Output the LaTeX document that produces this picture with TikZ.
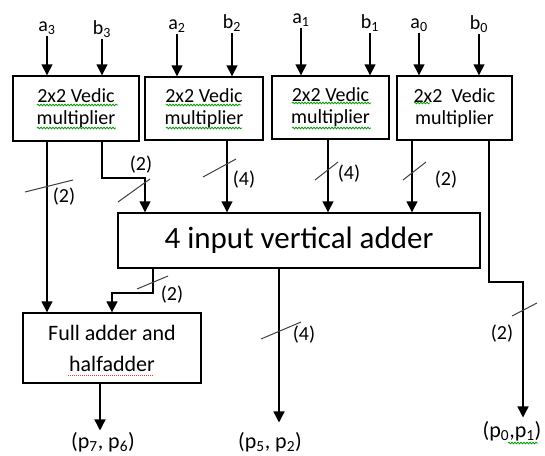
\documentclass[tikz,border=0pt]{standalone}
\usepackage{fontspec}
\setmainfont{Carlito}
\usetikzlibrary{arrows.meta,positioning,calc,decorations.pathmorphing}

\begin{document}
\begin{tikzpicture}[x=1pt,y=-1pt,line width=1.4pt,
  vbox/.style={draw,line width=1.4pt,align=center,inner sep=0pt},
  mtxt/.style={font=\fontsize{20}{22}\selectfont},
  arr/.style={-{Triangle[width=11pt,length=11pt]}},
  wbar/.style={line width=1pt,black!75},
  wlbl/.style={font=\fontsize{20}{22}\selectfont,inner sep=0pt},
  inp/.style={font=\fontsize{20}{22}\selectfont,inner sep=1pt},
  outl/.style={font=\fontsize{22}{24}\selectfont,inner sep=1pt},
  squig/.style={decorate,decoration={snake,amplitude=0.8pt,segment length=3pt},line width=0.8pt,green!60!black}]
\useasboundingbox (0,0) rectangle (545,455);
% multipliers
\node[vbox,mtxt,minimum width=126pt,minimum height=65pt] (m3) at (76,108.5) {2x2 Vedic\\multiplier};
\node[vbox,mtxt,minimum width=118pt,minimum height=63pt] (m2) at (204,108.5) {2x2 Vedic\\multiplier};
\node[vbox,mtxt,minimum width=117pt,minimum height=63pt] (m1) at (330.5,107.5) {2x2 Vedic\\multiplier};
\node[vbox,mtxt,minimum width=115pt,minimum height=64pt] (m0) at (454.5,108) {2x2\ \ Vedic\\multiplier};
\node[vbox,font=\fontsize{31}{36}\selectfont,minimum width=362pt,minimum height=55pt] (add) at (299,240.5) {4 input vertical adder};
\node[vbox,font=\fontsize{22}{31}\selectfont,minimum width=178pt,minimum height=70pt] (fa) at (112,348) {Full adder and\\halfadder};
% inputs
\foreach \nm/\ch/\d/\x/\y/\bx in {a3/a/3/47/28/m3,b3/b/3/102/29/m3,a2/a/2/177/26/m2,b2/b/2/232/23/m2,a1/a/1/301/20/m1,b1/b/1/370/23/m1,a0/a/0/419/25/m0,b0/b/0/479/24/m0}{
  \node[inp] (\nm) at (\x,\y) {\ch\textsubscript{\d}};
  \draw[arr] (\nm.south) -- (\nm.south |- \bx.north);
}
% connectors
\coordinate (j3) at (145,178);
\coordinate (jf) at (153,293);
\coordinate (j0) at (523,282);
\draw[arr] ([xshift=-29pt]m3.south) -- ([xshift=-29pt]m3.south |- fa.north);
\draw[arr] ([xshift=26pt]m3.south) |- (j3) -- (j3 |- add.north);
\draw[arr] ([xshift=23pt]m2.south) -- ([xshift=23pt]m2.south |- add.north);
\draw[arr] ([xshift=-2.5pt]m1.south) -- ([xshift=-2.5pt]m1.south |- add.north);
\draw[arr] ([xshift=-42.5pt]m0.south) -- ([xshift=-42.5pt]m0.south |- add.north);
\draw[arr] (add.south -| jf) -- (jf) -| (fa.north);
% outputs
\node[outl] (o76) at (103,442) {(p\textsubscript{7}, p\textsubscript{6})};
\node[outl] (o52) at (270,442) {(p\textsubscript{5}, p\textsubscript{2})};
\node[outl] (o01) at (512,431) {(p\textsubscript{0},p\textsubscript{1})};
\draw[arr] ([xshift=-12pt]fa.south) -- ([xshift=-12pt]fa.south |- o76.north);
\draw[arr,shorten >=8pt] ([xshift=-20pt]add.south) -- ([xshift=-20pt]add.south |- o52.north);
\draw[arr,shorten >=2pt] ([xshift=34.5pt]m0.south) |- (j0) -- (j0 |- o01.north);
% bus widths
\foreach \xa/\ya/\xb/\yb in {25/192/73/180,118/202/150/179,203/177/236/159,315/180/338/162,403/180/426/162,512/316/537/303,137/289/168/276,261/339/301/322}
  \draw[wbar] (\xa,\ya) -- (\xb,\yb);
\foreach \x/\y/\w in {64/197/2,141/165/2,244/180/4,349/174/4,446/180/2,502/334/2,172/295/2,304/335/4}
  \node[wlbl] (w\x) at (\x,\y) {(\w)};
% spell marks
\draw[squig] (37,105) -- (118,105);
\draw[squig] (166,105) -- (241,105);
\draw[squig] (166,128) -- (242,128);
\draw[squig] (37,128) -- (116,128);
\draw[squig] (292,103) -- (371,103);
\draw[squig] (292,128) -- (371,128);
\draw[squig] (414,103) -- (430,103);
\draw[squig] (508,443) -- (538,443);
\draw[red!80,line width=1pt,densely dotted] (68,375) -- (153,375);
\end{tikzpicture}
\end{document}
